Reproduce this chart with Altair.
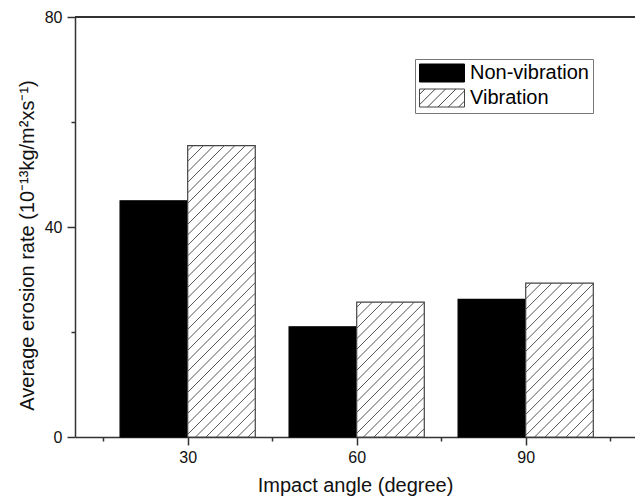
import altair as alt
import pandas as pd

# ---- data ----
angles = [30, 60, 90]
non_vibration = [45.0, 21.0, 26.2]
vibration = [55.5, 25.7, 29.3]
series_names = ["Non-vibration", "Vibration"]
x_ticks = [15, 30, 45, 60, 75, 90, 105]
y_ticks = [0, 20, 40, 60, 80]
x_domain = [10, 109.4]
y_domain = [0, 80]
bar_span = 12  # each bar is 12 x-units wide

rows = []
for a, nv, v in zip(angles, non_vibration, vibration):
    rows.append({"angle": a, "series": series_names[0], "value": nv})
    rows.append({"angle": a, "series": series_names[1], "value": v})
df = pd.DataFrame(rows)

# hatch segments for the "Vibration" bars (derived from the bar values)
m = 0.93    # x-units per y-unit (about 45 degrees on screen)
step = 1.86  # horizontal spacing in x-units
hatch = []
for a, v in zip(angles, vibration):
    x0, x1 = a, a + bar_span
    c = x0 - m * v + step * 0.5
    while c < x1:
        ylo = max(0.0, (x0 - c) / m)
        yhi = min(v, (x1 - c) / m)
        if yhi > ylo:
            hatch.append({"hx": c + m * ylo, "hy": ylo, "hx2": c + m * yhi, "hy2": yhi})
        c += step
hdf = pd.DataFrame(hatch)

FONT = "Liberation Sans"

x_axis = alt.Axis(
    values=x_ticks,
    labelExpr="datum.value % 30 === 0 ? datum.label : ''",
    tickSize={"condition": {"test": "datum.value % 30 === 0", "value": 8}, "value": 4},
    grid=False,
    labelFontSize=16,
    labelPadding=4,
    titleFontSize=20,
    titlePadding=10,
    labelFlush=False,
)
y_axis = alt.Axis(
    values=y_ticks,
    labelExpr="datum.value % 40 === 0 ? datum.label : ''",
    tickSize={"condition": {"test": "datum.value % 40 === 0", "value": 8}, "value": 4},
    grid=False,
    labelFontSize=16,
    labelPadding=5,
    titleFontSize=20,
    titlePadding=7,
    titleY=228,
    labelFlush=False,
)
x_title = "Impact angle (degree)"
y_title = "Average erosion rate (10⁻¹³kg/m²xs⁻¹)"
xs = alt.Scale(domain=x_domain, nice=False, zero=False)
ys = alt.Scale(domain=y_domain, nice=False)

# legend symbol: 45x18 rectangle plus diagonal hatch lines (unit = 9 px)
def hatch_path():
    p = "M-2.5,-1H2.5V1H-2.5Z"
    k = -2.9
    while k < 3.5:
        xa = max(-2.5, k - 1.0)
        xb = min(2.5, k + 1.0)
        if xb > xa:
            p += f"M{xa:.3f},{k - xa:.3f}L{xb:.3f},{k - xb:.3f}"
        k += 1.15
    return p

legend = alt.Legend(
    title=None,
    orient="none",
    legendX=340,
    legendY=42,
    symbolType=hatch_path(),
    symbolSize=324,
    symbolOffset=13,
    symbolStrokeWidth=1,
    labelFontSize=20,
    labelFont=FONT,
    labelColor="black",
    labelOffset=18,
    rowPadding=3,
    padding=4,
    strokeColor="#777",
    fillColor="white",
)

fill_scale = alt.Scale(domain=series_names, range=["black", "white"])
stroke_scale = alt.Scale(domain=series_names, range=["black", "#444"])

bars = alt.Chart(df).transform_calculate(
    x0=f"datum.series == '{series_names[0]}' ? datum.angle - {bar_span} : datum.angle",
    x1=f"datum.series == '{series_names[0]}' ? datum.angle : datum.angle + {bar_span}",
).mark_bar(strokeWidth=1.2).encode(
    x=alt.X("x0:Q", scale=xs, axis=x_axis, title=x_title),
    x2="x1:Q",
    y=alt.Y("value:Q", scale=ys, axis=y_axis, title=y_title),
    y2=alt.datum(0),
    fill=alt.Fill("series:N", scale=fill_scale, legend=legend, sort=series_names),
    stroke=alt.Stroke("series:N", scale=stroke_scale, legend=legend, sort=series_names),
)

hatch_layer = alt.Chart(hdf).mark_rule(color="#555", strokeWidth=1).encode(
    x=alt.X("hx:Q", scale=xs, axis=x_axis, title=x_title),
    x2="hx2:Q",
    y=alt.Y("hy:Q", scale=ys, axis=y_axis, title=y_title),
    y2="hy2:Q",
)

top_line = alt.Chart(df).mark_rule(color="#333", strokeWidth=1.5).encode(
    y=alt.Y(datum=y_domain[1], scale=ys, axis=y_axis, title=y_title),
    x=alt.X(datum=x_domain[0], scale=xs, axis=x_axis, title=x_title),
    x2=alt.datum(x_domain[1]),
)

chart = alt.layer(bars, hatch_layer, top_line).properties(
    width=560,
    height=420,
    padding={"left": 75, "top": 17, "right": 0, "bottom": 64},
    autosize="none",
    background="white",
).configure_view(stroke=None).configure_axis(
    labelFont=FONT,
    titleFont=FONT,
    titleFontWeight="normal",
    labelColor="#111",
    titleColor="#111",
    domainColor="#333",
    domainWidth=1.5,
    tickColor="#333",
    tickWidth=1.5,
)

chart.save("out.html", embed_options={"renderer": "svg", "actions": False})
